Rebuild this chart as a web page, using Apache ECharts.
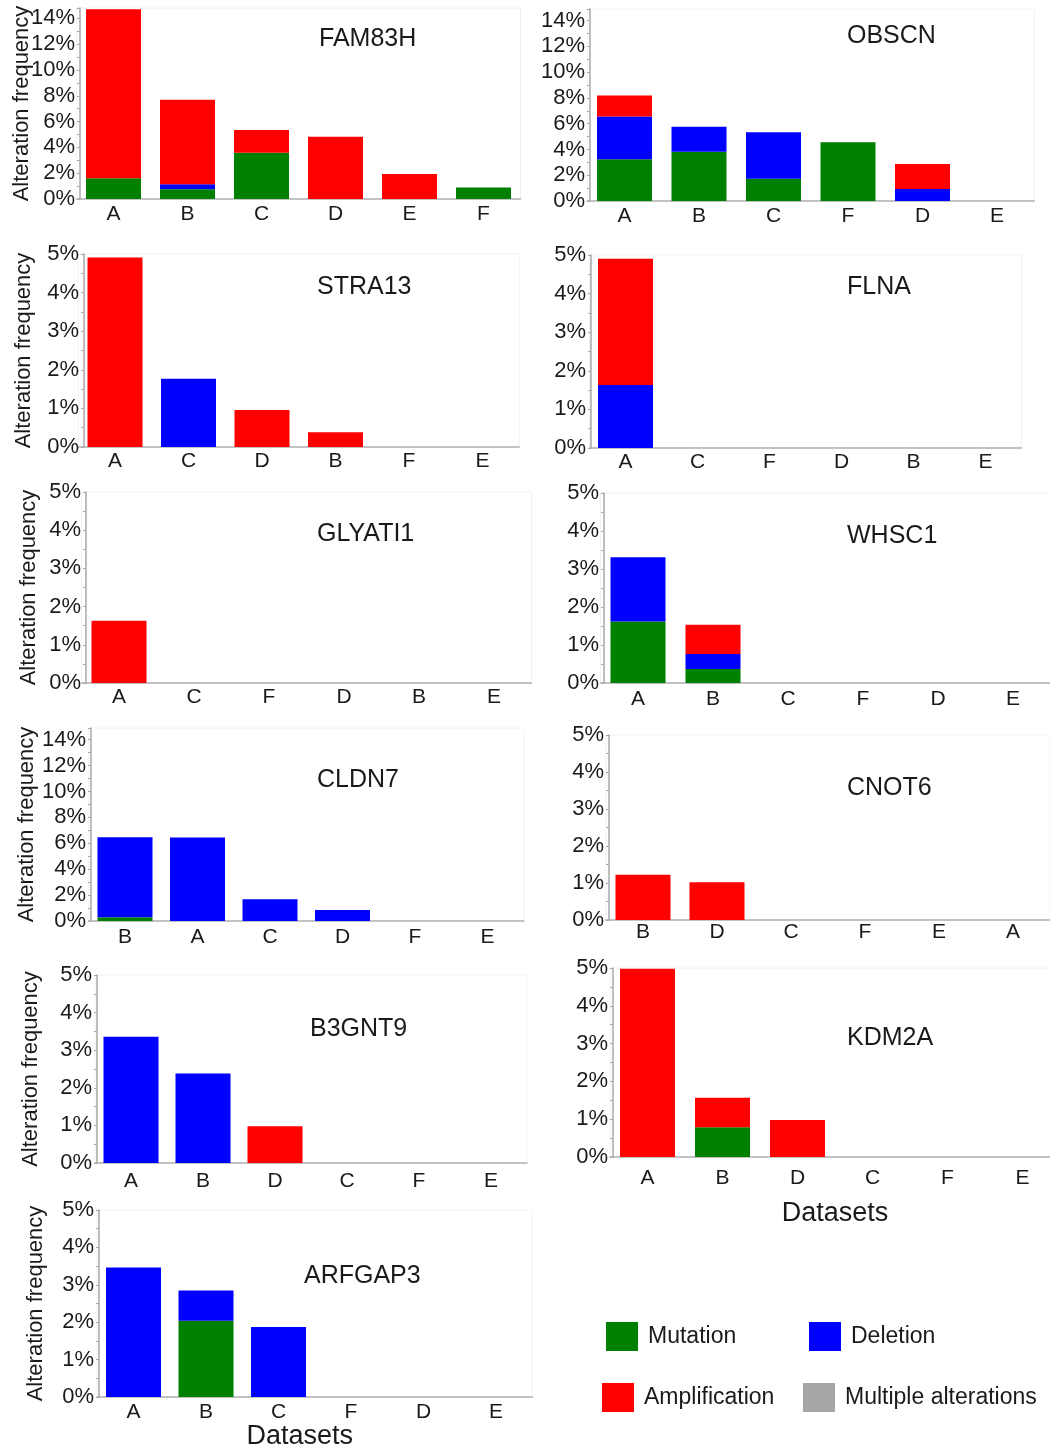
<!DOCTYPE html>
<html><head><meta charset="utf-8">
<script src="https://cdn.jsdelivr.net/npm/echarts@6/dist/echarts.min.js"></script>
<style>html,body{margin:0;padding:0;background:#fff}#c{width:1050px;height:1452px}</style>
</head><body><div id="c"></div>
<script>
// ---------------- DATA (alteration frequency, %) ----------------
const seriesNames = ['Mutation', 'Deletion', 'Amplification', 'Multiple alterations'];
const yTicks14 = [0, 2, 4, 6, 8, 10, 12, 14];
const yTicks5 = [0, 1, 2, 3, 4, 5];

const fam83hCats = ['A', 'B', 'C', 'D', 'E', 'F'];
const fam83hMut  = [1.6, 0.75, 3.58, 0, 0, 0.9];
const fam83hDel  = [0, 0.4, 0, 0, 0, 0];
const fam83hAmp  = [13.1, 6.55, 1.76, 4.82, 1.93, 0];

const obscnCats = ['A', 'B', 'C', 'F', 'D', 'E'];
const obscnMut  = [3.24, 3.83, 1.73, 4.56, 0, 0];
const obscnDel  = [3.31, 1.94, 3.6, 0, 0.93, 0];
const obscnAmp  = [1.63, 0, 0, 0, 1.94, 0];

const stra13Cats = ['A', 'C', 'D', 'B', 'F', 'E'];
const stra13Mut  = [0, 0, 0, 0, 0, 0];
const stra13Del  = [0, 1.77, 0, 0, 0, 0];
const stra13Amp  = [4.91, 0, 0.96, 0.38, 0, 0];

const flnaCats = ['A', 'C', 'F', 'D', 'B', 'E'];
const flnaMut  = [0, 0, 0, 0, 0, 0];
const flnaDel  = [1.63, 0, 0, 0, 0, 0];
const flnaAmp  = [3.27, 0, 0, 0, 0, 0];

const glyati1Cats = ['A', 'C', 'F', 'D', 'B', 'E'];
const glyati1Mut  = [0, 0, 0, 0, 0, 0];
const glyati1Del  = [0, 0, 0, 0, 0, 0];
const glyati1Amp  = [1.63, 0, 0, 0, 0, 0];

const whsc1Cats = ['A', 'B', 'C', 'F', 'D', 'E'];
const whsc1Mut  = [1.62, 0.37, 0, 0, 0, 0];
const whsc1Del  = [1.69, 0.39, 0, 0, 0, 0];
const whsc1Amp  = [0, 0.77, 0, 0, 0, 0];

const cldn7Cats = ['B', 'A', 'C', 'D', 'F', 'E'];
const cldn7Mut  = [0.29, 0, 0, 0, 0, 0];
const cldn7Del  = [6.18, 6.44, 1.68, 0.85, 0, 0];
const cldn7Amp  = [0, 0, 0, 0, 0, 0];

const cnot6Cats = ['B', 'D', 'C', 'F', 'E', 'A'];
const cnot6Mut  = [0, 0, 0, 0, 0, 0];
const cnot6Del  = [0, 0, 0, 0, 0, 0];
const cnot6Amp  = [1.22, 1.02, 0, 0, 0, 0];

const b3gnt9Cats = ['A', 'B', 'D', 'C', 'F', 'E'];
const b3gnt9Mut  = [0, 0, 0, 0, 0, 0];
const b3gnt9Del  = [3.36, 2.38, 0, 0, 0, 0];
const b3gnt9Amp  = [0, 0, 0.98, 0, 0, 0];

const kdm2aCats = ['A', 'B', 'D', 'C', 'F', 'E'];
const kdm2aMut  = [0, 0.79, 0, 0, 0, 0];
const kdm2aDel  = [0, 0, 0, 0, 0, 0];
const kdm2aAmp  = [4.98, 0.78, 0.98, 0, 0, 0];

const arfgap3Cats = ['A', 'B', 'C', 'F', 'D', 'E'];
const arfgap3Mut  = [0, 2.04, 0, 0, 0, 0];
const arfgap3Del  = [3.46, 0.81, 1.87, 0, 0, 0];
const arfgap3Amp  = [0, 0, 0, 0, 0, 0];

const panelData = [
  {gene: 'FAM83H',  cats: fam83hCats,  mut: fam83hMut,  del: fam83hDel,  amp: fam83hAmp,  ticks: yTicks14},
  {gene: 'OBSCN',   cats: obscnCats,   mut: obscnMut,   del: obscnDel,   amp: obscnAmp,   ticks: yTicks14},
  {gene: 'STRA13',  cats: stra13Cats,  mut: stra13Mut,  del: stra13Del,  amp: stra13Amp,  ticks: yTicks5},
  {gene: 'FLNA',    cats: flnaCats,    mut: flnaMut,    del: flnaDel,    amp: flnaAmp,    ticks: yTicks5},
  {gene: 'GLYATI1', cats: glyati1Cats, mut: glyati1Mut, del: glyati1Del, amp: glyati1Amp, ticks: yTicks5},
  {gene: 'WHSC1',   cats: whsc1Cats,   mut: whsc1Mut,   del: whsc1Del,   amp: whsc1Amp,   ticks: yTicks5},
  {gene: 'CLDN7',   cats: cldn7Cats,   mut: cldn7Mut,   del: cldn7Del,   amp: cldn7Amp,   ticks: yTicks14},
  {gene: 'CNOT6',   cats: cnot6Cats,   mut: cnot6Mut,   del: cnot6Del,   amp: cnot6Amp,   ticks: yTicks5},
  {gene: 'B3GNT9',  cats: b3gnt9Cats,  mut: b3gnt9Mut,  del: b3gnt9Del,  amp: b3gnt9Amp,  ticks: yTicks5},
  {gene: 'KDM2A',   cats: kdm2aCats,   mut: kdm2aMut,   del: kdm2aDel,   amp: kdm2aAmp,   ticks: yTicks5},
  {gene: 'ARFGAP3', cats: arfgap3Cats, mut: arfgap3Mut, del: arfgap3Del, amp: arfgap3Amp, ticks: yTicks5}
];

// ---------------- LAYOUT (pixels) ----------------
const layout = [
  {first: 113.5, step: 74,   ax: 80,  base: 199,  top: 8,    max: 14.8, lm: 5,  ng: 47, tx: 319, ty: 27},
  {first: 624.5, step: 74.5, ax: 590, base: 201,  top: 9,    max: 14.9, lm: 5,  ng: 0,  tx: 847, ty: 24},
  {first: 115,   step: 73.5, ax: 84,  base: 447,  top: 254,  max: 5,    lm: 4,  ng: 49, tx: 317, ty: 275},
  {first: 625.5, step: 72,   ax: 591, base: 448,  top: 255,  max: 5,    lm: 4,  ng: 0,  tx: 847, ty: 275},
  {first: 119,   step: 75,   ax: 86,  base: 683,  top: 492,  max: 5,    lm: 4,  ng: 46, tx: 317, ty: 522},
  {first: 638,   step: 75,   ax: 604, base: 683,  top: 493,  max: 5,    lm: 6,  ng: 0,  tx: 847, ty: 524},
  {first: 125,   step: 72.5, ax: 91,  base: 921,  top: 728,  max: 14.9, lm: 6,  ng: 53, tx: 317, ty: 768},
  {first: 643,   step: 74,   ax: 609, base: 920,  top: 735,  max: 5,    lm: 2,  ng: 0,  tx: 847, ty: 776},
  {first: 131,   step: 72,   ax: 97,  base: 1163, top: 975,  max: 5,    lm: 8,  ng: 55, tx: 310, ty: 1017},
  {first: 647.5, step: 75,   ax: 613, base: 1157, top: 968,  max: 5,    lm: 11, ng: 0,  tx: 847, ty: 1026, xname: 'Datasets', xng: 43, xpad: [0, 0, 0, 0]},
  {first: 133.5, step: 72.5, ax: 99,  base: 1397, top: 1210, max: 5,    lm: 5,  ng: 52, tx: 304, ty: 1264, xname: 'Datasets', xng: 26, xpad: [0, 30, 0, 0]}
];

const COLORS = {Mutation: '#008000', Deletion: '#0000ff', Amplification: '#ff0000', 'Multiple alterations': '#a6a6a6'};
const FONT = '"Liberation Sans", Arial, sans-serif';
const TXT = '#1a1a1a';

const grids = [], xAxes = [], yAxes = [], series = [], titles = [];
panelData.forEach((P, i) => {
  const L = layout[i];
  const left = L.first - L.step / 2;
  const width = L.step * 6;
  const interval = P.ticks[1] - P.ticks[0];
  grids.push({left: left, top: L.top, width: width, height: L.base - L.top,
    show: true, borderColor: '#f2f2f2', borderWidth: 1, containLabel: false, outerBoundsMode: 'none'});
  xAxes.push({
    type: 'category', gridIndex: i, data: P.cats,
    axisLine: {lineStyle: {color: '#b0b0b0', width: 1.5}},
    axisTick: {show: false},
    axisLabel: {fontSize: 21, color: TXT, margin: L.lm, fontFamily: FONT},
    name: L.xname || '', nameLocation: 'middle', nameGap: L.xng || 0, nameMoveOverlap: false,
    nameTextStyle: {fontSize: 27, color: TXT, fontFamily: FONT, padding: L.xpad || 0}
  });
  yAxes.push({
    type: 'value', gridIndex: i, min: 0, max: L.max, interval: interval,
    offset: -(L.ax - left),
    axisLine: {show: true, lineStyle: {color: '#a8a8a8', width: 1.5}},
    axisTick: {show: true, length: 3, lineStyle: {color: '#a8a8a8'}},
    minorTick: {show: true, splitNumber: 2, length: 3, lineStyle: {color: '#a8a8a8'}},
    splitLine: {show: false},
    axisLabel: {fontSize: 22, color: TXT, margin: 5, fontFamily: FONT,
      formatter: v => (P.ticks.indexOf(v) >= 0 ? v + '%' : '')},
    name: L.ng ? 'Alteration frequency' : '', nameLocation: 'middle', nameGap: L.ng, nameMoveOverlap: false,
    nameTextStyle: {fontSize: 22, color: TXT, fontFamily: FONT}
  });
  [['Mutation', P.mut], ['Deletion', P.del], ['Amplification', P.amp]].forEach(([name, vals]) => {
    series.push({type: 'bar', name: name, xAxisIndex: i, yAxisIndex: i, stack: 'p' + i,
      barWidth: 55, data: vals, itemStyle: {color: COLORS[name]}, emphasis: {disabled: true}});
  });
  titles.push({text: P.gene, left: L.tx, top: L.ty, padding: 0,
    textStyle: {fontSize: 25, fontWeight: 'normal', color: TXT, fontFamily: FONT}});
});
series.push({type: 'bar', name: 'Multiple alterations', xAxisIndex: 0, yAxisIndex: 0, stack: 'p0',
  data: [], itemStyle: {color: COLORS['Multiple alterations']}});

const legendBase = {orient: 'horizontal', padding: 0, itemGap: 0, itemWidth: 32, itemHeight: 29, icon: 'rect',
  selectedMode: false, textStyle: {fontSize: 23, color: TXT, fontFamily: FONT, padding: [0, 0, 0, 5]}};
const legends = [
  Object.assign({}, legendBase, {data: [seriesNames[0]], left: 606, top: 1322}),
  Object.assign({}, legendBase, {data: [seriesNames[1]], left: 809, top: 1322}),
  Object.assign({}, legendBase, {data: [seriesNames[2]], left: 602, top: 1383}),
  Object.assign({}, legendBase, {data: [seriesNames[3]], left: 803, top: 1383})
];

const chart = echarts.init(document.getElementById('c'), null, {renderer: 'canvas'});
chart.setOption({
  backgroundColor: '#ffffff',
  animation: false,
  title: titles,
  legend: legends,
  grid: grids,
  xAxis: xAxes,
  yAxis: yAxes,
  series: series
});
</script>
</body></html>
